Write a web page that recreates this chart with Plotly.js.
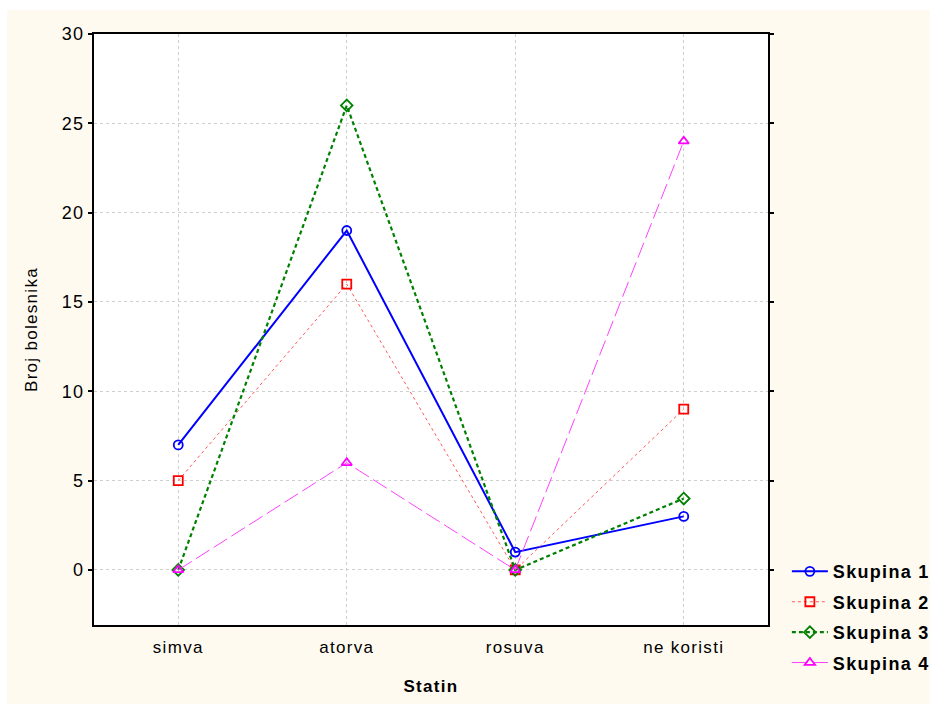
<!DOCTYPE html>
<html>
<head>
<meta charset="utf-8">
<script src="https://cdn.plot.ly/plotly-3.0.1.min.js"></script>
<style>
html,body{margin:0;padding:0;background:#ffffff;}
#chart{position:absolute;left:7px;top:10px;width:923px;height:694px;}
svg text{letter-spacing:1.3px;}
</style>
</head>
<body>
<div id="chart"></div>
<script>
const categories = ['simva', 'atorva', 'rosuva', 'ne koristi'];
const seriesNames = ['Skupina 1', 'Skupina 2', 'Skupina 3', 'Skupina 4'];
const skupina1 = [7, 19, 1, 3];
const skupina2 = [5, 16, 0, 9];
const skupina3 = [0, 26, 0, 4];
const skupina4 = [0, 6, 0, 24];
const yTicks = [0, 5, 10, 15, 20, 25, 30];

const styles = [
  {color:'#0000ff', lineColor:'#0000ff', width:2, dash:'solid', symbol:'circle-open'},
  {color:'#ff0000', lineColor:'#ff5a5a', width:1, dash:'dot', symbol:'square-open'},
  {color:'#008000', lineColor:'#008000', width:2.2, dash:'4px,3px', symbol:'diamond-open'},
  {color:'#ff00ff', lineColor:'#ff40ff', width:1, dash:'16px,5px', symbol:'triangle-up-open'}
];
const allValues = [skupina1, skupina2, skupina3, skupina4];

const traces = allValues.map((vals, i) => ({
  type:'scatter', mode:'lines+markers',
  name: seriesNames[i], legendgroup:'g' + i,
  x: categories, y: vals,
  line:{color:styles[i].lineColor, width:styles[i].width, dash:styles[i].dash},
  marker:{symbol:styles[i].symbol, size:9, color:styles[i].color, line:{width:1.8, color:styles[i].color}}
}));

const layout = {
  width:923, height:694,
  paper_bgcolor:'#fffaf0',
  plot_bgcolor:'#ffffff',
  margin:{l:87, r:162, t:24, b:79, autoexpand:false},
  font:{family:'Liberation Sans, Arial, sans-serif', size:18, color:'#000000'},
  showlegend:true,
  legend:{x:1.028, y:0.1216, xanchor:'left', yanchor:'top', bgcolor:'rgba(0,0,0,0)',
    font:{size:18, weight:'bold', color:'#000000'}, tracegroupgap:4, itemwidth:36},
  xaxis:{
    type:'category', range:[-0.5, 3.5],
    showgrid:true, gridcolor:'#cfcfcf', griddash:'dot', gridwidth:1,
    showline:true, linecolor:'#000000', linewidth:2, mirror:true,
    ticks:'', tickfont:{size:17}, ticklabelstandoff:6,
    title:{text:'Statin', font:{size:17, weight:'bold'}, standoff:24},
    zeroline:false
  },
  yaxis:{
    range:[-3.08, 30], tickvals:yTicks,
    showgrid:true, gridcolor:'#cfcfcf', griddash:'dot', gridwidth:1,
    showline:true, linecolor:'#000000', linewidth:2, mirror:'ticks',
    ticks:'outside', ticklen:4, tickcolor:'#000000', tickwidth:2,
    tickfont:{size:18},
    title:{text:'Broj bolesnika', font:{size:17}, standoff:20},
    zeroline:false
  }
};

Plotly.newPlot('chart', traces, layout, {displayModeBar:false});
</script>
</body>
</html>
